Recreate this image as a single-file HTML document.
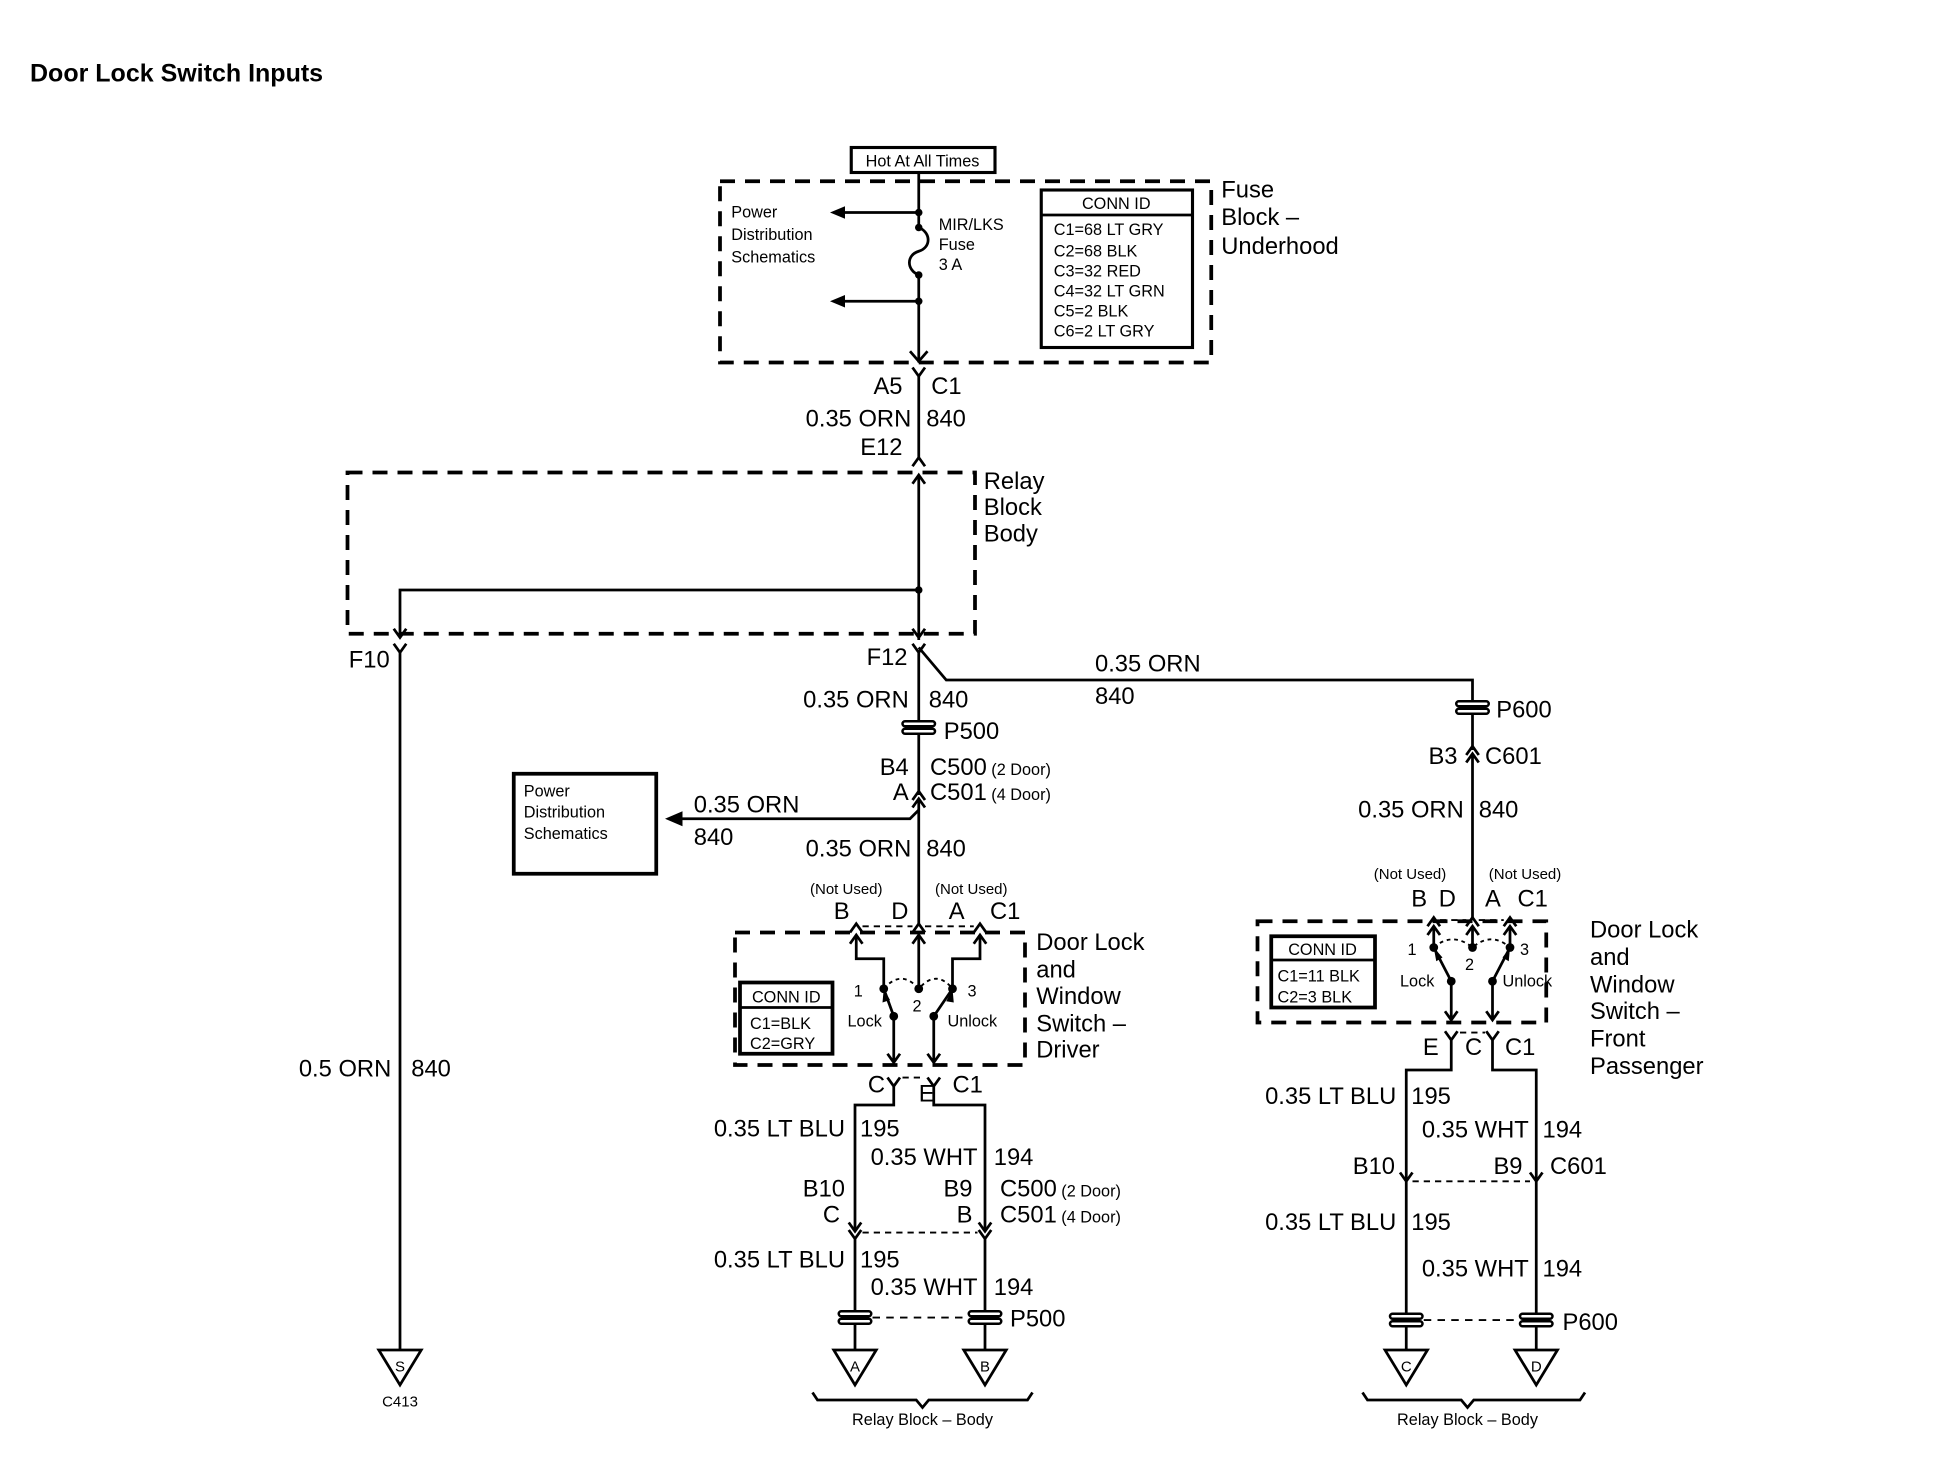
<!DOCTYPE html>
<html><head><meta charset="utf-8"><style>
html,body{margin:0;padding:0;background:#fff;}
svg{display:block;}
text{font-family:"Liberation Sans",Arial,sans-serif;fill:#000;}
.l{font-size:19px;}
.s{font-size:13px;}
.xs{font-size:12px;}
.e{text-anchor:end;}
.m{text-anchor:middle;}
</style></head><body>
<svg width="1950" height="1472" viewBox="0 0 1560 1177.6" xmlns="http://www.w3.org/2000/svg">
<g fill="none" stroke="#000" stroke-width="2.2">
<rect x="681" y="118" width="115" height="20" stroke-width="2.5"/>
<rect x="576" y="145" width="393" height="145" stroke-width="3" stroke-dasharray="12,8"/>
<path d="M735 138 V182 M735 220 V290"/>
<path d="M735 182 C745 186,745 198,735 201 C725 204,725 216,735 220"/>
<path d="M735 170 H672 M735 241 H672"/>
<path d="M728 281 L735 289 L742 281"/>
<rect x="833" y="152" width="121" height="126" stroke-width="2.5"/>
<path d="M833 172 H954"/>
<path d="M730 294 L735 301 L740 294 M735 301 V366 M730 373 L735 366 L740 373"/>
<rect x="278" y="378" width="502" height="129" stroke-width="3" stroke-dasharray="12,8"/>
<path d="M735 380 V512 M730 387 L735 380 L740 387 M730 503 L735 510 L740 503"/>
<path d="M735 472 H320 V510 M315 503 L320 510 L325 503"/>
<path d="M315 515 L320 522 L325 515 M320 522 V1080"/>
<path d="M730 515 L735 522 L740 515 M735 522 V636"/>
<path d="M735 518 L757 544 H1178 V600"/>
<path d="M730 640 L735 633 L740 640 M730 646 L735 639 L740 646 M735 639 V740"/>
<path d="M735 648 L728 655 H538"/>
<rect x="411" y="619" width="114" height="80" stroke-width="3"/>
<path d="M680 746 L685 739 L690 746 M730 746 L735 739 L740 746 M779 746 L784 739 L789 746"/>
<path d="M690 741 H730 M740 741 H779" stroke-width="1.5" stroke-dasharray="5,4"/>
<rect x="588" y="746" width="232" height="106" stroke-width="3" stroke-dasharray="12,8"/>
<path d="M685 748 V767 H707 V790 M735 748 V791 M784 748 V767 H762 V790"/>
<path d="M680 755 L685 748 L690 755 M730 755 L735 748 L740 755 M779 755 L784 748 L789 755"/>
<path d="M715 813 L707 791 M747 813 L762 791"/>
<path d="M707 791 Q721 775 735 791 Q749 775 762 791" stroke-width="1.5" stroke-dasharray="3,3"/>
<path d="M715 813 V850 M747 813 V850 M710 843 L715 850 L720 843 M742 843 L747 850 L752 843"/>
<rect x="592" y="786" width="74" height="57" stroke-width="3"/>
<path d="M592 806 H666"/>
<path d="M710 862 L715 869 L720 862 M742 862 L747 869 L752 862 M715 869 V884 H684 V985 M747 869 V884 H788 V985"/>
<path d="M722 862 H740" stroke-width="1.5" stroke-dasharray="5,4"/>
<path d="M679 978 L684 985 L689 978 M783 978 L788 985 L793 978 M679 984 L684 991 L689 984 M783 984 L788 991 L793 984 M684 991 V1080 M788 991 V1080"/>
<path d="M690 986 H782" stroke-width="1.5" stroke-dasharray="5,4"/>
<path d="M698 1054 H774" stroke-width="1.5" stroke-dasharray="6,5"/>
<path d="M1173 604 L1178 597 L1183 604 M1173 610 L1178 603 L1183 610 M1178 603 V735"/>
<path d="M1142 741 L1147 734 L1152 741 M1173 741 L1178 734 L1183 741 M1203 741 L1208 734 L1213 741"/>
<path d="M1152 736 H1173 M1183 736 H1203" stroke-width="1.5" stroke-dasharray="5,4"/>
<rect x="1006" y="737" width="231" height="81" stroke-width="3" stroke-dasharray="12,8"/>
<path d="M1147 741 V758 M1178 741 V758 M1208 741 V758"/>
<path d="M1142 748 L1147 741 L1152 748 M1173 748 L1178 741 L1183 748 M1203 748 L1208 741 L1213 748"/>
<path d="M1161 785 L1147 758 M1194 785 L1208 758"/>
<path d="M1147 758 Q1162 745 1178 758 Q1193 745 1208 758" stroke-width="1.5" stroke-dasharray="3,3"/>
<path d="M1161 785 V816 M1194 785 V816 M1156 809 L1161 816 L1166 809 M1189 809 L1194 816 L1199 809"/>
<rect x="1017" y="749" width="83" height="57" stroke-width="3"/>
<path d="M1017 768 H1100"/>
<path d="M1156 825 L1161 832 L1166 825 M1189 825 L1194 832 L1199 825 M1161 832 V856 H1125 V945 M1194 832 V856 H1229 V945"/>
<path d="M1168 826 H1188" stroke-width="1.5" stroke-dasharray="5,4"/>
<path d="M1120 938 L1125 945 L1130 938 M1224 938 L1229 945 L1234 938 M1125 945 V1080 M1229 945 V1080"/>
<path d="M1130 945 H1224" stroke-width="1.5" stroke-dasharray="5,4"/>
<path d="M1139 1056 H1215" stroke-width="1.5" stroke-dasharray="6,5"/>
<polygon points="303,1080 337,1080 320,1108"/>
<polygon points="667,1080 701,1080 684,1108"/>
<polygon points="771,1080 805,1080 788,1108"/>
<polygon points="1108,1080 1142,1080 1125,1108"/>
<polygon points="1212,1080 1246,1080 1229,1108"/>
<path d="M650 1114 l4 6 H733 l5 6 l5 -6 H822 l4 -6"/>
<path d="M1090 1114 l4 6 H1169 l5 6 l5 -6 H1264 l4 -6"/>
</g>
<g fill="#000">
<polygon points="664,170 676,165 676,175"/>
<polygon points="664,241 676,236 676,246"/>
<polygon points="532,655 546,649 546,661"/>
<circle cx="735" cy="170" r="3"/><circle cx="735" cy="241" r="3"/>
<circle cx="735" cy="182" r="3"/><circle cx="735" cy="220" r="3"/>
<circle cx="735" cy="472" r="3"/>
<circle cx="707" cy="791" r="3.5"/><circle cx="735" cy="791" r="3.5"/><circle cx="762" cy="791" r="3.5"/>
<circle cx="715" cy="813" r="3.5"/><circle cx="747" cy="813" r="3.5"/>
<circle cx="1147" cy="758" r="3.5"/><circle cx="1178" cy="758" r="3.5"/><circle cx="1208" cy="758" r="3.5"/>
<circle cx="1161" cy="785" r="3.5"/><circle cx="1194" cy="785" r="3.5"/>
<polygon points="707,791 706,802 712,800"/>
<polygon points="762,791 757,801 763,802"/>
<polygon points="1147,758 1149,769 1154,766"/>
<polygon points="1208,758 1202,766 1207,769"/>
</g>
<g fill="#fff" stroke="#000" stroke-width="2">
<rect x="722" y="577" width="26" height="4" rx="2"/><rect x="722" y="583" width="26" height="4" rx="2"/>
<rect x="1165" y="561" width="26" height="4" rx="2"/><rect x="1165" y="567" width="26" height="4" rx="2"/>
<rect x="671" y="1049" width="26" height="4" rx="2"/><rect x="671" y="1055" width="26" height="4" rx="2"/>
<rect x="775" y="1049" width="26" height="4" rx="2"/><rect x="775" y="1055" width="26" height="4" rx="2"/>
<rect x="1112" y="1051" width="26" height="4" rx="2"/><rect x="1112" y="1057" width="26" height="4" rx="2"/>
<rect x="1216" y="1051" width="26" height="4" rx="2"/><rect x="1216" y="1057" width="26" height="4" rx="2"/>
</g>
<text x="24" y="65" style="font-size:20px;font-weight:bold">Door Lock Switch Inputs</text>
<text x="738" y="133" class="s m">Hot At All Times</text>
<text x="585" y="174" class="s">Power</text><text x="585" y="192" class="s">Distribution</text><text x="585" y="210" class="s">Schematics</text>
<text x="751" y="184" class="s">MIR/LKS</text><text x="751" y="200" class="s">Fuse</text><text x="751" y="216" class="s">3 A</text>
<text x="893" y="167" class="s m">CONN ID</text>
<text x="843" y="188" class="s">C1=68 LT GRY</text><text x="843" y="205" class="s">C2=68 BLK</text><text x="843" y="221" class="s">C3=32 RED</text>
<text x="843" y="237" class="s">C4=32 LT GRN</text><text x="843" y="253" class="s">C5=2 BLK</text><text x="843" y="269" class="s">C6=2 LT GRY</text>
<text x="977" y="158" class="l">Fuse</text><text x="977" y="180" class="l">Block –</text><text x="977" y="203" class="l">Underhood</text>
<text x="722" y="315" class="l e">A5</text><text x="745" y="315" class="l">C1</text>
<text x="729" y="341" class="l e">0.35 ORN</text><text x="741" y="341" class="l">840</text>
<text x="722" y="364" class="l e">E12</text>
<text x="787" y="391" class="l">Relay</text><text x="787" y="412" class="l">Block</text><text x="787" y="433" class="l">Body</text>
<text x="279" y="534" class="l">F10</text>
<text x="726" y="532" class="l e">F12</text>
<text x="876" y="537" class="l">0.35 ORN</text><text x="876" y="563" class="l">840</text>
<text x="727" y="566" class="l e">0.35 ORN</text><text x="743" y="566" class="l">840</text>
<text x="755" y="591" class="l">P500</text>
<text x="727" y="620" class="l e">B4</text><text x="744" y="620" class="l">C500<tspan class="s"> (2 Door)</tspan></text>
<text x="727" y="640" class="l e">A</text><text x="744" y="640" class="l">C501<tspan class="s"> (4 Door)</tspan></text>
<text x="555" y="650" class="l">0.35 ORN</text><text x="555" y="676" class="l">840</text>
<text x="419" y="637" class="s">Power</text><text x="419" y="654" class="s">Distribution</text><text x="419" y="671" class="s">Schematics</text>
<text x="729" y="685" class="l e">0.35 ORN</text><text x="741" y="685" class="l">840</text>
<text x="648" y="715" class="xs">(Not Used)</text><text x="748" y="715" class="xs">(Not Used)</text>
<text x="667" y="735" class="l">B</text><text x="713" y="735" class="l">D</text><text x="759" y="735" class="l">A</text><text x="792" y="735" class="l">C1</text>
<text x="829" y="760" class="l">Door Lock</text><text x="829" y="782" class="l">and</text><text x="829" y="803" class="l">Window</text><text x="829" y="825" class="l">Switch –</text><text x="829" y="846" class="l">Driver</text>
<text x="629" y="802" class="s m">CONN ID</text><text x="600" y="823" class="s">C1=BLK</text><text x="600" y="839" class="s">C2=GRY</text>
<text x="683" y="797" class="s">1</text><text x="730" y="809" class="s">2</text><text x="774" y="797" class="s">3</text>
<text x="678" y="821" class="s">Lock</text><text x="758" y="821" class="s">Unlock</text>
<text x="708" y="874" class="l e">C</text><text x="735" y="881" class="l">E</text><text x="762" y="874" class="l">C1</text>
<text x="676" y="909" class="l e">0.35 LT BLU</text><text x="688" y="909" class="l">195</text>
<text x="782" y="932" class="l e">0.35 WHT</text><text x="795" y="932" class="l">194</text>
<text x="676" y="957" class="l e">B10</text><text x="672" y="978" class="l e">C</text>
<text x="778" y="957" class="l e">B9</text><text x="778" y="978" class="l e">B</text>
<text x="800" y="957" class="l">C500<tspan class="s"> (2 Door)</tspan></text><text x="800" y="978" class="l">C501<tspan class="s"> (4 Door)</tspan></text>
<text x="676" y="1014" class="l e">0.35 LT BLU</text><text x="688" y="1014" class="l">195</text>
<text x="782" y="1036" class="l e">0.35 WHT</text><text x="795" y="1036" class="l">194</text>
<text x="808" y="1061" class="l">P500</text>
<text x="313" y="861" class="l e">0.5 ORN</text><text x="329" y="861" class="l">840</text>
<text x="320" y="1097" class="xs m">S</text><text x="320" y="1125" class="xs m">C413</text>
<text x="684" y="1097" class="xs m">A</text><text x="788" y="1097" class="xs m">B</text>
<text x="1125" y="1097" class="xs m">C</text><text x="1229" y="1097" class="xs m">D</text>
<text x="738" y="1140" class="s m">Relay Block – Body</text>
<text x="1174" y="1140" class="s m">Relay Block – Body</text>
<text x="1197" y="574" class="l">P600</text>
<text x="1166" y="611" class="l e">B3</text><text x="1188" y="611" class="l">C601</text>
<text x="1171" y="654" class="l e">0.35 ORN</text><text x="1183" y="654" class="l">840</text>
<text x="1099" y="703" class="xs">(Not Used)</text><text x="1191" y="703" class="xs">(Not Used)</text>
<text x="1129" y="725" class="l">B</text><text x="1151" y="725" class="l">D</text><text x="1188" y="725" class="l">A</text><text x="1214" y="725" class="l">C1</text>
<text x="1058" y="764" class="s m">CONN ID</text><text x="1022" y="785" class="s">C1=11 BLK</text><text x="1022" y="802" class="s">C2=3 BLK</text>
<text x="1126" y="764" class="s">1</text><text x="1172" y="776" class="s">2</text><text x="1216" y="764" class="s">3</text>
<text x="1120" y="789" class="s">Lock</text><text x="1202" y="789" class="s">Unlock</text>
<text x="1272" y="750" class="l">Door Lock</text><text x="1272" y="772" class="l">and</text><text x="1272" y="794" class="l">Window</text><text x="1272" y="815" class="l">Switch –</text><text x="1272" y="837" class="l">Front</text><text x="1272" y="859" class="l">Passenger</text>
<text x="1151" y="844" class="l e">E</text><text x="1172" y="844" class="l">C</text><text x="1204" y="844" class="l">C1</text>
<text x="1117" y="883" class="l e">0.35 LT BLU</text><text x="1129" y="883" class="l">195</text>
<text x="1223" y="910" class="l e">0.35 WHT</text><text x="1234" y="910" class="l">194</text>
<text x="1116" y="939" class="l e">B10</text><text x="1218" y="939" class="l e">B9</text><text x="1240" y="939" class="l">C601</text>
<text x="1117" y="984" class="l e">0.35 LT BLU</text><text x="1129" y="984" class="l">195</text>
<text x="1223" y="1021" class="l e">0.35 WHT</text><text x="1234" y="1021" class="l">194</text>
<text x="1250" y="1064" class="l">P600</text>
</svg>
</body></html>
